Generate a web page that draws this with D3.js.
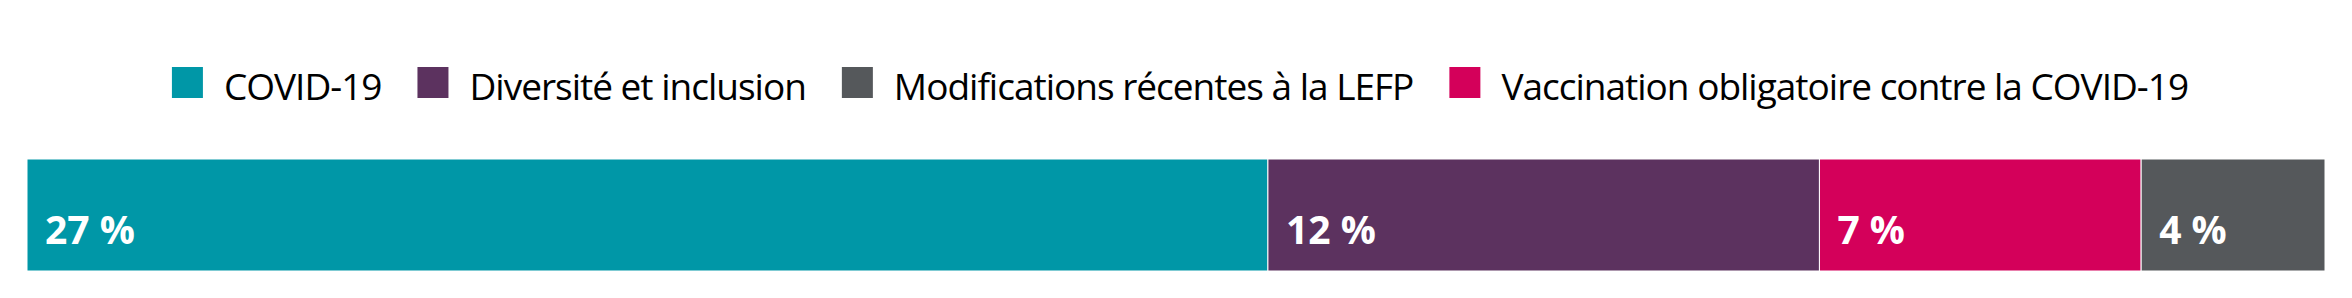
<!DOCTYPE html>
<html>
<head>
<meta charset="utf-8">
<script src="https://cdn.jsdelivr.net/npm/d3@7"></script>
<style>
body { margin: 0; background: #fff; }
svg text { font-family: "Open Sans", "Noto Sans", sans-serif; }
</style>
</head>
<body>
<script>
// legend order
var legendNames = ["COVID-19", "Diversité et inclusion", "Modifications récentes à la LEFP", "Vaccination obligatoire contre la COVID-19"];
var legendColors = ["#0097a7", "#5c325f", "#55585b", "#d4005a"];

// bar order (largest first)
var barNames = ["COVID-19", "Diversité et inclusion", "Vaccination obligatoire contre la COVID-19", "Modifications récentes à la LEFP"];
var barValues = [27, 12, 7, 4];

var width = 2352, height = 298;
var margin = {left: 27, right: 27};

var svg = d3.select("body").append("svg")
  .attr("width", width)
  .attr("height", height);

var color = d3.scaleOrdinal().domain(legendNames).range(legendColors);

var x = d3.scaleLinear()
  .domain([0, d3.sum(barValues)])
  .range([margin.left, width - margin.right]);

// cumulative starts
var starts = [];
var acc = 0;
for (var i = 0; i < barValues.length; i++) {
  starts.push(acc);
  acc += barValues[i];
}

var barTop = 159, barH = 112;

svg.selectAll("rect.seg")
  .data(barValues)
  .enter()
  .append("rect")
  .attr("class", "seg")
  .attr("x", function(d, i) { return x(starts[i]); })
  .attr("y", barTop)
  .attr("width", function(d, i) { return x(starts[i] + d) - x(starts[i]); })
  .attr("height", barH)
  .attr("fill", function(d, i) { return color(barNames[i]); })
  .attr("stroke", "#fff")
  .attr("stroke-width", 1);

svg.selectAll("text.val")
  .data(barValues)
  .enter()
  .append("text")
  .attr("class", "val")
  .attr("x", function(d, i) { return x(starts[i]) + 18; })
  .attr("y", barTop + 85)
  .attr("fill", "#fff")
  .style("font-size", "39px")
  .style("font-weight", "bold")
  .text(function(d) { return d + " %"; });

// legend, centred, laid out from measured text widths
var sq = 31, gapSqText = 21, gapItem = 36;
var legend = svg.append("g");
var items = legend.selectAll("g")
  .data(legendNames)
  .enter()
  .append("g");

items.append("rect")
  .attr("y", 67)
  .attr("width", sq)
  .attr("height", sq)
  .attr("fill", function(d) { return color(d); });

items.append("text")
  .attr("x", sq + gapSqText)
  .attr("y", 100)
  .attr("fill", "#000")
  .style("font-size", "37px")
  .style("letter-spacing", "-1px")
  .text(function(d) { return d; });

var pos = 0;
items.each(function() {
  var g = d3.select(this);
  var w = sq + gapSqText + g.select("text").node().getComputedTextLength();
  g.attr("transform", "translate(" + pos + ",0)");
  pos += w + gapItem;
});
var total = pos - gapItem;
legend.attr("transform", "translate(" + ((width - total) / 2 + 4) + ",0)");
</script>
</body>
</html>
